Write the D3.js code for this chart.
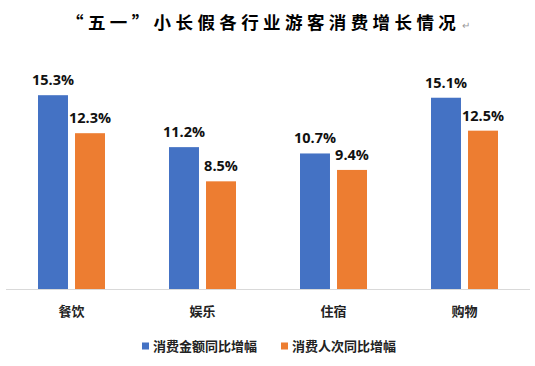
<!DOCTYPE html>
<html>
<head>
<meta charset="utf-8">
<script src="https://cdn.jsdelivr.net/npm/d3@7"></script>
<style>
  body { margin: 0; background: #fff; }
  text { font-family: "Noto Sans CJK SC", "Liberation Sans", sans-serif; }
</style>
</head>
<body>
<svg width="535" height="366"></svg>
<script>
const categories = ["餐饮", "娱乐", "住宿", "购物"];
const seriesNames = ["消费金额同比增幅", "消费人次同比增幅"];
const amountGrowth = [15.3, 11.2, 10.7, 15.1];
const visitorGrowth = [12.3, 8.5, 9.4, 12.5];
const colours = ["#4472C4", "#ED7D31"];

const svg = d3.select("svg");
const margin = { top: 61, right: 5, bottom: 77, left: 6 };
const width = +svg.attr("width") - margin.left - margin.right;
const height = +svg.attr("height") - margin.top - margin.bottom;

const rows = categories.map((c, i) => ({
    category: c,
    values: [amountGrowth[i], visitorGrowth[i]]
}));

const x0 = d3.scaleBand().domain(categories).range([0, width]).padding(0);
const bw = x0.bandwidth();
const x1 = d3.scaleBand().domain([0, 1]).range([bw / 2 - 33.5, bw / 2 + 33.5]).paddingInner(0.19);
const y = d3.scaleLinear().domain([0, 18]).range([height, 0]);

// title
svg.append("text")
    .attr("x", 66)
    .attr("y", 29)
    .attr("font-size", 17.5)
    .attr("font-weight", "bold")
    .attr("letter-spacing", 4.4)
    .attr("fill", "#000")
    .text("“五一”小长假各行业游客消费增长情况");
svg.append("text")
    .attr("x", 462)
    .attr("y", 29)
    .attr("font-size", 10)
    .attr("fill", "#999")
    .text("↵");

const g = svg.append("g").attr("transform", `translate(${margin.left},${margin.top})`);

const groups = g.selectAll("g.grp")
    .data(rows)
    .join("g")
    .attr("class", "grp")
    .attr("transform", d => `translate(${x0(d.category)},0)`);

groups.selectAll("rect")
    .data(d => d.values.map((v, i) => ({ v, i })))
    .join("rect")
    .attr("x", d => x1(d.i))
    .attr("width", x1.bandwidth())
    .attr("y", d => y(d.v))
    .attr("height", d => y(0) - y(d.v))
    .attr("fill", d => colours[d.i]);

groups.selectAll("text.lbl")
    .data(d => d.values.map((v, i) => ({ v, i })))
    .join("text")
    .attr("class", "lbl")
    .attr("x", d => x1(d.i) + x1.bandwidth() / 2)
    .attr("y", d => y(d.v) - 10)
    .attr("text-anchor", "middle")
    .attr("font-size", 14.5)
    .attr("font-weight", "bold")
    .attr("fill", "#111")
    .style("font-family", "'Open Sans', 'Liberation Sans', sans-serif")
    .text(d => d.v.toFixed(1) + "%");

// baseline
g.append("line")
    .attr("x1", 0).attr("x2", width)
    .attr("y1", y(0) + 0.5).attr("y2", y(0) + 0.5)
    .attr("stroke", "#d9d9d9");

// category labels
g.selectAll("text.cat")
    .data(categories)
    .join("text")
    .attr("class", "cat")
    .attr("x", d => x0(d) + bw / 2)
    .attr("y", height + 27)
    .attr("text-anchor", "middle")
    .attr("font-size", 13)
    .attr("font-weight", "bold")
    .attr("fill", "#222")
    .text(d => d);

// legend
const legendX = [142, 281];
const legend = svg.append("g")
    .selectAll("g")
    .data(seriesNames)
    .join("g")
    .attr("transform", (d, i) => `translate(${legendX[i]},346)`);

legend.append("rect")
    .attr("x", 0).attr("y", -3.5)
    .attr("width", 7).attr("height", 7)
    .attr("fill", (d, i) => colours[i]);

legend.append("text")
    .attr("x", 11)
    .attr("y", 5)
    .attr("font-size", 13)
    .attr("font-weight", "bold")
    .attr("fill", "#222")
    .text(d => d);
</script>
</body>
</html>
